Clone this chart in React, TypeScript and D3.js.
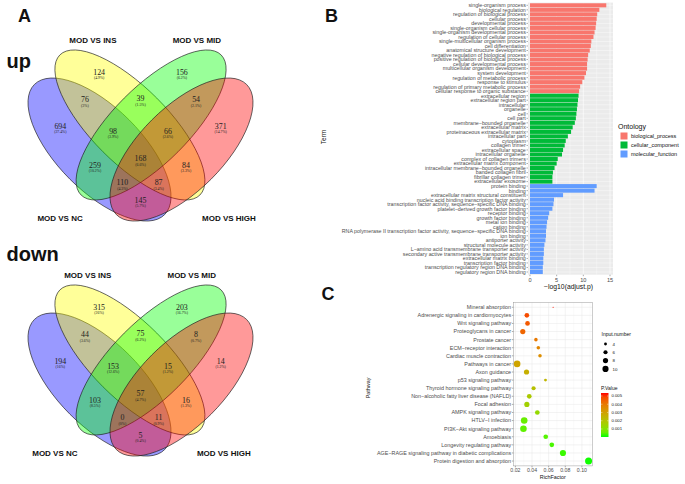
import React from 'react';
import * as d3 from 'd3';

const W = 685;
const H = 484;
const SANS = 'Liberation Sans, Arial, sans-serif';
const SERIF = 'Liberation Serif, Times New Roman, serif';

// ---------- Panel A data (Venn) ----------
const vennSets = ['MOD VS NC', 'MOD VS INS', 'MOD VS MID', 'MOD VS HIGH'];
const vennFills = ['#0000ff', '#ffff00', '#00ff00', '#ff0000'];
const vennRegions = [
  'INS', 'MID', 'NC&INS', 'INS&MID', 'MID&HIGH', 'NC', 'NC&INS&MID', 'INS&MID&HIGH',
  'HIGH', 'NC&INS&MID&HIGH', 'NC&MID', 'INS&HIGH', 'NC&MID&HIGH', 'NC&INS&HIGH', 'NC&HIGH',
];
const upCounts = [124, 156, 76, 39, 54, 694, 98, 66, 371, 168, 259, 84, 110, 87, 145];
const downCounts = [315, 203, 44, 75, 8, 194, 153, 15, 14, 57, 103, 16, 0, 11, 5];

// ---------- Panel B data (GO terms) ----------
const bpTerms = [
  'single-organism process', 'biological regulation', 'regulation of biological process',
  'cellular process', 'developmental process', 'single-organism cellular process',
  'single-organism developmental process', 'regulation of cellular process',
  'single-multicellular organism process', 'cell differentiation',
  'anatomical structure development', 'negative regulation of biological process',
  'positive regulation of biological process', 'cellular developmental process',
  'multicellular organism development', 'system development', 'regulation of metabolic process',
  'response to stimulus', 'regulation of primary metabolic process',
  'cellular response to organic substance',
];
const bpValues = [14.3, 13.0, 12.6, 12.5, 12.4, 12.3, 12.1, 11.9, 11.5, 11.4, 11.2, 10.9, 10.8, 10.7, 10.7, 10.5, 10.2, 9.8, 9.4, 9.2];
const ccTerms = [
  'extracellular region', 'extracellular region part', 'intracellular', 'organelle', 'cell',
  'cell part', 'membrane\u2212bounded organelle', 'extracellular matrix',
  'proteinaceous extracellular matrix', 'intracellular part', 'cytoplasm', 'collagen trimer',
  'extracellular space', 'intracellular organelle', 'complex of collagen trimers',
  'extracellular matrix component', 'intracellular membrane\u2212bounded organelle',
  'banded collagen fibril', 'fibrillar collagen trimer', 'extracellular exosome',
];
const ccValues = [9.1, 9.0, 8.9, 8.8, 8.7, 8.6, 8.4, 8.0, 7.7, 7.1, 6.7, 6.5, 6.2, 6.0, 5.2, 5.0, 4.6, 4.3, 4.2, 4.2];
const mfTerms = [
  'protein binding', 'binding', 'extracellular matrix structural constituent',
  'nucleic acid binding transcription factor activity',
  'transcription factor activity, sequence\u2212specific DNA binding',
  'platelet\u2212derived growth factor binding', 'receptor binding', 'growth factor binding',
  'metal ion binding', 'cation binding',
  'RNA polymerase II transcription factor activity, sequence\u2212specific DNA binding',
  'ion binding', 'antiporter activity', 'structural molecule activity',
  'L\u2212amino acid transmembrane transporter activity',
  'secondary active transmembrane transporter activity', 'extracellular matrix binding',
  'transcription factor binding', 'transcription regulatory region DNA binding',
  'regulatory region DNA binding',
];
const mfValues = [12.5, 12.1, 6.2, 4.5, 4.4, 4.2, 3.6, 3.4, 3.2, 3.1, 3.0, 3.0, 2.9, 2.7, 2.6, 2.6, 2.5, 2.5, 2.4, 2.4];
const ontologies = ['biological_process', 'cellular_component', 'molecular_function'];
const ontologyColors = ['#F8766D', '#00BA38', '#619CFF'];
const goTicks = [0, 5, 10, 15];

// ---------- Panel C data (KEGG) ----------
const pathways = [
  'Mineral absorption', 'Adrenergic signaling in cardiomyocytes', 'Wnt signaling pathway',
  'Proteoglycans in cancer', 'Prostate cancer', 'ECM\u2212receptor interaction',
  'Cardiac muscle contraction', 'Pathways in cancer', 'Axon guidance', 'p53 signaling pathway',
  'Thyroid hormone signaling pathway', 'Non\u2212alcoholic fatty liver disease (NAFLD)',
  'Focal adhesion', 'AMPK signaling pathway', 'HTLV\u2212I infection', 'PI3K\u2212Akt signaling pathway',
  'Amoebiasis', 'Longevity regulating pathway',
  'AGE\u2212RAGE signaling pathway in diabetic complications', 'Protein digestion and absorption',
];
const richFactor = [0.0654, 0.0338, 0.0346, 0.0289, 0.0447, 0.0476, 0.0496, 0.0221, 0.0334, 0.0562, 0.0419, 0.0367, 0.0338, 0.0464, 0.0306, 0.0297, 0.0565, 0.0638, 0.0772, 0.108];
const inputNumber = [2, 7, 7, 8, 5, 5, 5, 11, 8, 4, 6, 7, 8, 7, 11, 11, 7, 7, 10, 12];
const pValue = [0.0053, 0.0048, 0.0046, 0.0044, 0.004, 0.0037, 0.0035, 0.0029, 0.0026, 0.0024, 0.0021, 0.0018, 0.0016, 0.0013, 0.0006, 0.0005, 0.0004, 0.0003, 0.0002, 0.00005];
const richTicks = [0.02, 0.04, 0.06, 0.08, 0.1];
const sizeBreaks = [4, 6, 8, 10];
const pBreaks = [0.001, 0.002, 0.003, 0.004, 0.005];

// ---------- Venn layout (unit coords, y up) ----------
const ellipseLayout = [
  { cx: 0.3415, cy: 0.455, a: 0.356, b: 0.162, rot: 135 },
  { cx: 0.459, cy: 0.55, a: 0.383, b: 0.147, rot: 135 },
  { cx: 0.541, cy: 0.55, a: 0.383, b: 0.147, rot: 45 },
  { cx: 0.6585, cy: 0.455, a: 0.356, b: 0.162, rot: 45 },
];
const regionPos: [number, number][] = [
  [0.34, 0.755], [0.66, 0.755], [0.285, 0.647], [0.5, 0.652], [0.715, 0.647],
  [0.19, 0.546], [0.394, 0.527], [0.606, 0.527], [0.81, 0.546], [0.5, 0.419],
  [0.324, 0.395], [0.676, 0.395], [0.43, 0.326], [0.57, 0.326], [0.5, 0.26],
];
const setLabelPos: [number, number][] = [[0.189, 0.19], [0.316, 0.879], [0.718, 0.879], [0.842, 0.19]];

const Venn: React.FC<{ counts: number[]; dy: number; labelDx: number }> = ({ counts, dy, labelDx }) => {
  const x = d3.scaleLinear().domain([0, 1]).range([11.2, 269.8]);
  const y = d3.scaleLinear().domain([0, 1]).range([267.2 + dy, 8.6 + dy]);
  const unit = x(1) - x(0);
  const total = d3.sum(counts);
  const pct = (v: number) => `(${Math.round((v / total) * 1000) / 10}%)`;
  return (
    <g>
      {ellipseLayout.map((e, i) => (
        <ellipse
          key={i}
          cx={x(e.cx)}
          cy={y(e.cy)}
          rx={e.a * unit}
          ry={e.b * unit}
          transform={`rotate(${-e.rot} ${x(e.cx)} ${y(e.cy)})`}
          fill={vennFills[i]}
          fillOpacity={0.4}
          stroke="#222"
          strokeWidth={0.65}
        />
      ))}
      {counts.map((v, i) => (
        <g key={vennRegions[i]} fill="#222" textAnchor="middle" fontFamily={SERIF}>
          <text x={x(regionPos[i][0])} y={y(regionPos[i][1]) + 2.6} fontSize={7.9}>{v}</text>
          <text x={x(regionPos[i][0])} y={y(regionPos[i][1]) + 7.4} fontSize={3.8}>{pct(v)}</text>
        </g>
      ))}
      {vennSets.map((s, i) => (
        <text key={s} x={x(setLabelPos[i][0] + labelDx)} y={y(setLabelPos[i][1]) + 3}
          textAnchor="middle" fontFamily={SANS} fontWeight="bold" fontSize={8} fill="#111">{s}</text>
      ))}
    </g>
  );
};

const GoPanel: React.FC = () => {
  const terms = [...bpTerms, ...ccTerms, ...mfTerms];
  const values = [...bpValues, ...ccValues, ...mfValues];
  const groups = [...bpTerms.map(() => 0), ...ccTerms.map(() => 1), ...mfTerms.map(() => 2)];
  const left = 528, right = 613, top = 2.6, bottom = 274.7;
  const x = d3.scaleLinear().domain([-0.375, 15.56]).range([left, right]);
  const y = d3.scaleBand().domain(terms).range([top, bottom]).paddingInner(0.1).paddingOuter(0.15);
  const minor = [2.5, 7.5, 12.5];
  return (
    <g fontFamily={SANS}>
      <rect x={left} y={top} width={right - left} height={bottom - top} fill="#ebebeb" />
      {minor.map(t => <line key={t} x1={x(t)} x2={x(t)} y1={top} y2={bottom} stroke="#fff" strokeWidth={0.3} />)}
      {goTicks.map(t => <line key={t} x1={x(t)} x2={x(t)} y1={top} y2={bottom} stroke="#fff" strokeWidth={0.6} />)}
      {terms.map(t => (
        <line key={t} x1={left} x2={right} y1={y(t)! + y.bandwidth() / 2} y2={y(t)! + y.bandwidth() / 2} stroke="#fff" strokeWidth={0.4} />
      ))}
      {terms.map((t, i) => (
        <rect key={t} x={x(0)} y={y(t)} width={x(values[i]) - x(0)} height={y.bandwidth()} fill={ontologyColors[groups[i]]} />
      ))}
      {terms.map(t => (
        <g key={t}>
          <line x1={left - 1.5} x2={left} y1={y(t)! + y.bandwidth() / 2} y2={y(t)! + y.bandwidth() / 2} stroke="#333" strokeWidth={0.4} />
          <text x={left - 2.2} y={y(t)! + y.bandwidth() / 2 + 1.9} textAnchor="end" fontSize={5.3} fill="#4d4d4d">{t}</text>
        </g>
      ))}
      {goTicks.map(t => (
        <g key={t}>
          <line x1={x(t)} x2={x(t)} y1={bottom} y2={bottom + 1.5} stroke="#333" strokeWidth={0.4} />
          <text x={x(t)} y={bottom + 7.3} textAnchor="middle" fontSize={5.6} fill="#4d4d4d">{t}</text>
        </g>
      ))}
      <text x={(left + right) / 2 - 2} y={289} textAnchor="middle" fontSize={6.8} fill="#111">{'\u2212log10(adjust.p)'}</text>
      <text transform="translate(325.5,137) rotate(-90)" textAnchor="middle" fontSize={6.6} fill="#111">Term</text>
      <text x={618} y={129} fontSize={7} fill="#111">Ontology</text>
      {ontologies.map((o, i) => (
        <g key={o}>
          <rect x={620.5} y={132.5 + i * 9} width={7} height={7} fill={ontologyColors[i]} />
          <text x={631} y={138.2 + i * 9} fontSize={5.5} fill="#111">{o}</text>
        </g>
      ))}
    </g>
  );
};

const KeggPanel: React.FC = () => {
  const left = 513.3, right = 592.3, top = 302.4, bottom = 465.9;
  const x = d3.scaleLinear().domain([0.0175, 0.1125]).range([left, right]);
  const y = d3.scalePoint().domain(pathways).range([top, bottom]).padding(0.6);
  const r = d3.scaleSqrt().domain([2, 12]).range([0.6, 3.5]);
  const pMin = 0.00003, pMax = 0.00536;
  const color = d3.scaleLinear<string>().domain([pMin, pMax]).range(['#00ff00', '#ff0000']).interpolate(d3.interpolateLab);
  const minorX = [0.01, 0.03, 0.05, 0.07, 0.09, 0.11].filter(v => v > 0.0175 && v < 0.1125);
  const barTop = 393, barBottom = 437;
  const cb = d3.scaleLinear().domain([pMin, pMax]).range([barBottom, barTop]);
  const stops = d3.range(0, 1.0001, 0.1);
  return (
    <g fontFamily={SANS}>
      <defs>
        <linearGradient id="pgrad" x1="0" y1="1" x2="0" y2="0">
          {stops.map(s => <stop key={s} offset={s} stopColor={color(pMin + s * (pMax - pMin))} />)}
        </linearGradient>
      </defs>
      <rect x={left} y={top} width={right - left} height={bottom - top} fill="#fff" />
      {minorX.map(t => <line key={t} x1={x(t)} x2={x(t)} y1={top} y2={bottom} stroke="#f2f2f2" strokeWidth={0.3} />)}
      {richTicks.map(t => <line key={t} x1={x(t)} x2={x(t)} y1={top} y2={bottom} stroke="#e6e6e6" strokeWidth={0.5} />)}
      {pathways.map(p => <line key={p} x1={left} x2={right} y1={y(p)} y2={y(p)} stroke="#e6e6e6" strokeWidth={0.5} />)}
      <rect x={left} y={top} width={right - left} height={bottom - top} fill="none" stroke="#999" strokeWidth={0.5} />
      {pathways.map((p, i) => (
        <circle key={p} cx={x(richFactor[i])} cy={y(p)} r={r(inputNumber[i])} fill={color(pValue[i])} />
      ))}
      {pathways.map(p => (
        <g key={p}>
          <line x1={left - 1.5} x2={left} y1={y(p)} y2={y(p)} stroke="#333" strokeWidth={0.4} />
          <text x={left - 2.2} y={y(p)! + 1.9} textAnchor="end" fontSize={5.4} fill="#4d4d4d">{p}</text>
        </g>
      ))}
      {richTicks.map(t => (
        <g key={t}>
          <line x1={x(t)} x2={x(t)} y1={bottom} y2={bottom + 1.5} stroke="#333" strokeWidth={0.4} />
          <text x={x(t)} y={bottom + 6.5} textAnchor="middle" fontSize={5.2} fill="#4d4d4d">{d3.format('.2f')(t)}</text>
        </g>
      ))}
      <text x={(left + right) / 2} y={478.5} textAnchor="middle" fontSize={5.4} fill="#111">RichFactor</text>
      <text transform="translate(369.5,388) rotate(-90)" textAnchor="middle" fontSize={5.4} fill="#111">Pathway</text>
      <text x={601.5} y={336} fontSize={5} fill="#111">Input.number</text>
      {sizeBreaks.map((s, i) => (
        <g key={s}>
          <circle cx={605.5} cy={344 + i * 8.3} r={r(s)} fill="#000" />
          <text x={612.5} y={345.7 + i * 8.3} fontSize={4.4} fill="#111">{s}</text>
        </g>
      ))}
      <text x={601} y={390} fontSize={5} fill="#111">P.Value</text>
      <rect x={601} y={barTop} width={7.5} height={barBottom - barTop} fill="url(#pgrad)" />
      {pBreaks.map(b => (
        <g key={b}>
          <line x1={601} x2={602.5} y1={cb(b)} y2={cb(b)} stroke="#fff" strokeWidth={0.4} />
          <line x1={607} x2={608.5} y1={cb(b)} y2={cb(b)} stroke="#fff" strokeWidth={0.4} />
          <text x={611.5} y={cb(b) + 1.5} fontSize={4.2} fill="#111">{d3.format('.3f')(b)}</text>
        </g>
      ))}
    </g>
  );
};

export default function App() {
  return (
    <div style={{ position: 'fixed', left: 0, top: 0, width: W, height: H, background: '#fff' }}>
      <svg width={W} height={H} viewBox={`0 0 ${W} ${H}`}>
        <rect width={W} height={H} fill="#fff" />
        <Venn counts={upCounts} dy={0} labelDx={0} />
        <Venn counts={downCounts} dy={235} labelDx={-0.02} />
        <g fontFamily={SANS} fontWeight="bold" fill="#111">
          <text x={18} y={21.7} fontSize={18}>A</text>
          <text x={325} y={21.7} fontSize={18}>B</text>
          <text x={321.5} y={300} fontSize={18}>C</text>
          <text x={6.5} y={68} fontSize={20}>up</text>
          <text x={6.5} y={260.7} fontSize={20}>down</text>
        </g>
        <GoPanel />
        <KeggPanel />
      </svg>
    </div>
  );
}
